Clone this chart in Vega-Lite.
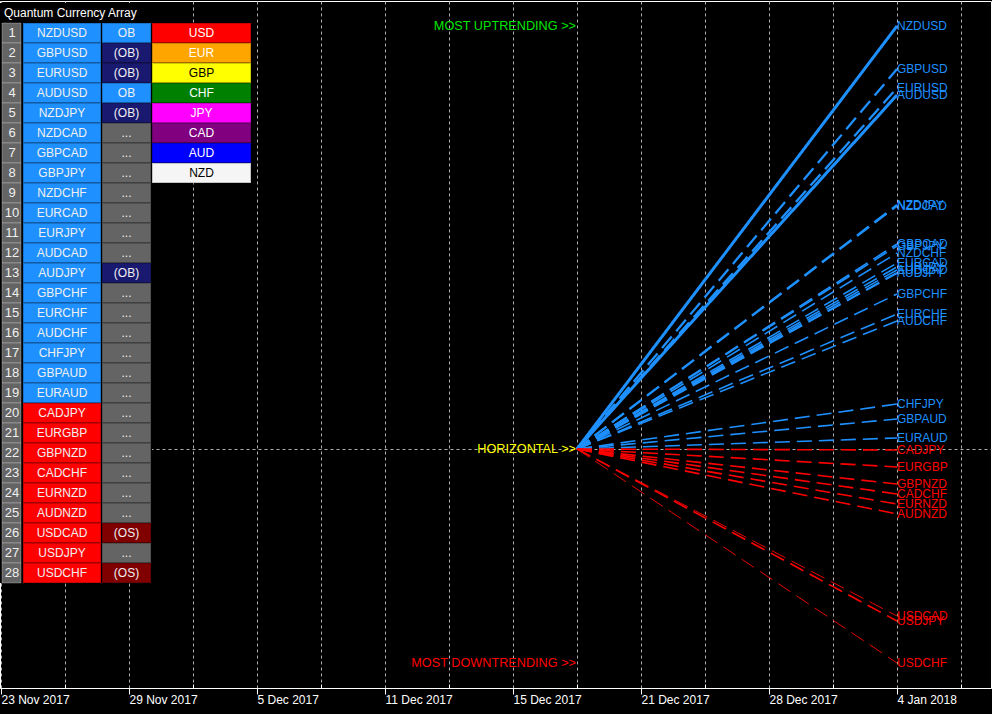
{
  "$schema": "https://vega.github.io/schema/vega-lite/v6.json",
  "width": 991,
  "height": 687,
  "padding": {"left": 0, "top": 1, "right": 1, "bottom": 26},
  "autosize": {"type": "none"},
  "background": "#000000",
  "config": {
    "view": {"stroke": "#ffffff", "strokeWidth": 1},
    "font": "Liberation Sans",
    "text": {"font": "Liberation Sans", "fontSize": 12}
  },
  "datasets": {
    "pairs": [
      {"rank": 1, "pair": "NZDUSD", "dir": "up", "status": "OB", "fromBar": 18, "toBar": 28, "fromStrength": 0, "strength": 4.23},
      {"rank": 2, "pair": "GBPUSD", "dir": "up", "status": "(OB)", "fromBar": 18, "toBar": 28, "fromStrength": 0, "strength": 3.80},
      {"rank": 3, "pair": "EURUSD", "dir": "up", "status": "(OB)", "fromBar": 18, "toBar": 28, "fromStrength": 0, "strength": 3.61},
      {"rank": 4, "pair": "AUDUSD", "dir": "up", "status": "OB", "fromBar": 18, "toBar": 28, "fromStrength": 0, "strength": 3.54},
      {"rank": 5, "pair": "NZDJPY", "dir": "up", "status": "(OB)", "fromBar": 18, "toBar": 28, "fromStrength": 0, "strength": 2.44},
      {"rank": 6, "pair": "NZDCAD", "dir": "up", "status": "...", "fromBar": 18, "toBar": 28, "fromStrength": 0, "strength": 2.43},
      {"rank": 7, "pair": "GBPCAD", "dir": "up", "status": "...", "fromBar": 18, "toBar": 28, "fromStrength": 0, "strength": 2.05},
      {"rank": 8, "pair": "GBPJPY", "dir": "up", "status": "...", "fromBar": 18, "toBar": 28, "fromStrength": 0, "strength": 2.03},
      {"rank": 9, "pair": "NZDCHF", "dir": "up", "status": "...", "fromBar": 18, "toBar": 28, "fromStrength": 0, "strength": 1.96},
      {"rank": 10, "pair": "EURCAD", "dir": "up", "status": "...", "fromBar": 18, "toBar": 28, "fromStrength": 0, "strength": 1.86},
      {"rank": 11, "pair": "EURJPY", "dir": "up", "status": "...", "fromBar": 18, "toBar": 28, "fromStrength": 0, "strength": 1.82},
      {"rank": 12, "pair": "AUDCAD", "dir": "up", "status": "...", "fromBar": 18, "toBar": 28, "fromStrength": 0, "strength": 1.79},
      {"rank": 13, "pair": "AUDJPY", "dir": "up", "status": "(OB)", "fromBar": 18, "toBar": 28, "fromStrength": 0, "strength": 1.76},
      {"rank": 14, "pair": "GBPCHF", "dir": "up", "status": "...", "fromBar": 18, "toBar": 28, "fromStrength": 0, "strength": 1.55},
      {"rank": 15, "pair": "EURCHF", "dir": "up", "status": "...", "fromBar": 18, "toBar": 28, "fromStrength": 0, "strength": 1.35},
      {"rank": 16, "pair": "AUDCHF", "dir": "up", "status": "...", "fromBar": 18, "toBar": 28, "fromStrength": 0, "strength": 1.28},
      {"rank": 17, "pair": "CHFJPY", "dir": "up", "status": "...", "fromBar": 18, "toBar": 28, "fromStrength": 0, "strength": 0.45},
      {"rank": 18, "pair": "GBPAUD", "dir": "up", "status": "...", "fromBar": 18, "toBar": 28, "fromStrength": 0, "strength": 0.30},
      {"rank": 19, "pair": "EURAUD", "dir": "up", "status": "...", "fromBar": 18, "toBar": 28, "fromStrength": 0, "strength": 0.11},
      {"rank": 20, "pair": "CADJPY", "dir": "down", "status": "...", "fromBar": 18, "toBar": 28, "fromStrength": 0, "strength": -0.01},
      {"rank": 21, "pair": "EURGBP", "dir": "down", "status": "...", "fromBar": 18, "toBar": 28, "fromStrength": 0, "strength": -0.18},
      {"rank": 22, "pair": "GBPNZD", "dir": "down", "status": "...", "fromBar": 18, "toBar": 28, "fromStrength": 0, "strength": -0.35},
      {"rank": 23, "pair": "CADCHF", "dir": "down", "status": "...", "fromBar": 18, "toBar": 28, "fromStrength": 0, "strength": -0.45},
      {"rank": 24, "pair": "EURNZD", "dir": "down", "status": "...", "fromBar": 18, "toBar": 28, "fromStrength": 0, "strength": -0.55},
      {"rank": 25, "pair": "AUDNZD", "dir": "down", "status": "...", "fromBar": 18, "toBar": 28, "fromStrength": 0, "strength": -0.65},
      {"rank": 26, "pair": "USDCAD", "dir": "down", "status": "(OS)", "fromBar": 18, "toBar": 28, "fromStrength": 0, "strength": -1.67},
      {"rank": 27, "pair": "USDJPY", "dir": "down", "status": "...", "fromBar": 18, "toBar": 28, "fromStrength": 0, "strength": -1.72},
      {"rank": 28, "pair": "USDCHF", "dir": "down", "status": "(OS)", "fromBar": 18, "toBar": 28, "fromStrength": 0, "strength": -2.14}
    ],
    "currencies": [
      {"rank": 1, "ccy": "USD"},
      {"rank": 2, "ccy": "EUR"},
      {"rank": 3, "ccy": "GBP"},
      {"rank": 4, "ccy": "CHF"},
      {"rank": 5, "ccy": "JPY"},
      {"rank": 6, "ccy": "CAD"},
      {"rank": 7, "ccy": "AUD"},
      {"rank": 8, "ccy": "NZD"}
    ],
    "trend": [
      {"label": "MOST UPTRENDING >>", "kind": "up", "bar": 18, "strength": 4.23},
      {"label": "HORIZONTAL >>", "kind": "flat", "bar": 18, "strength": 0},
      {"label": "MOST DOWNTRENDING >>", "kind": "down", "bar": 18, "strength": -2.14}
    ],
    "heading": [
      {"rank": 0, "text": "Quantum Currency Array"}
    ]
  },
  "layer": [
    {
      "layer": [
        {
          "data": {"name": "pairs"},
          "mark": {"type": "rule"},
          "encoding": {
            "x": {
              "field": "fromBar", "type": "quantitative",
              "scale": {"domain": [-0.03125, 30.9375], "nice": false, "zero": false},
              "axis": {
                "values": [0,1,2,3,4,5,6,7,8,9,10,11,12,13,14,15,16,17,18,19,20,21,22,23,24,25,26,27,28,29,30],
                "grid": true, "gridColor": "#b0b0b0", "gridDash": [3, 3], "gridWidth": 1,
                "domain": true, "domainColor": "#ffffff", "domainWidth": 1,
                "ticks": true, "tickColor": "#ffffff",
                "tickSize": {"condition": {"test": "datum.value % 4 === 0", "value": 6}, "value": -4},
                "labelExpr": "datum.value % 4 === 0 ? ['23 Nov 2017','29 Nov 2017','5 Dec 2017','11 Dec 2017','15 Dec 2017','21 Dec 2017','28 Dec 2017','4 Jan 2018'][datum.value / 4] : ''",
                "labelAlign": "left", "labelBaseline": "top", "labelPadding": 0,
                "labelColor": "#ffffff", "labelFont": "Liberation Sans", "labelFontSize": 12,
                "labelFlush": false, "labelOverlap": false, "title": null
              }
            },
            "x2": {"field": "toBar"},
            "y": {
              "field": "fromStrength", "type": "quantitative",
              "scale": {"domain": [-2.39, 4.48], "nice": false, "zero": false},
              "axis": {"values": [0], "grid": true, "gridColor": "#b0b0b0", "gridDash": [3, 3], "domain": false, "ticks": false, "labels": false, "title": null}
            },
            "y2": {"field": "strength"},
            "color": {"field": "dir", "type": "nominal", "scale": {"domain": ["up", "down"], "range": ["#1E90FF", "#FF0000"]}, "legend": null},
            "strokeDash": {"field": "status", "type": "nominal", "scale": {"domain": ["OB", "(OB)", "...", "(OS)"], "range": [[1, 0], [15, 7], [15, 7], [15, 7]]}, "legend": null},
            "strokeWidth": {"field": "status", "type": "nominal", "scale": {"domain": ["OB", "(OB)", "...", "(OS)"], "range": [3, 0.9, 0.9, 0.9]}, "legend": null}
          }
        },
        {
          "data": {"name": "pairs"},
          "mark": {"type": "text", "align": "left", "baseline": "middle", "fontSize": 12, "font": "Liberation Sans"},
          "encoding": {
            "x": {"field": "toBar", "type": "quantitative"},
            "y": {"field": "strength", "type": "quantitative"},
            "text": {"field": "pair"},
            "color": {"field": "dir", "type": "nominal", "legend": null}
          }
        },
        {
          "data": {"name": "trend"},
          "mark": {"type": "text", "align": "right", "baseline": "middle", "dx": -1, "fontSize": 12.7, "font": "Liberation Sans"},
          "encoding": {
            "x": {"field": "bar", "type": "quantitative"},
            "y": {"field": "strength", "type": "quantitative"},
            "text": {"field": "label"},
            "fill": {"field": "kind", "type": "nominal", "scale": {"domain": ["up", "flat", "down"], "range": ["#00E600", "#FFFF00", "#FF0000"]}, "legend": null}
          }
        }
      ]
    },
    {
      "layer": [
        {
          "data": {"name": "pairs"},
          "mark": {"type": "rect", "fill": "#000000"},
          "encoding": {
            "x": {"datum": 0, "type": "quantitative", "scale": {"domain": [0, 991], "nice": false, "zero": false}, "axis": null},
            "x2": {"datum": 152},
            "y": {"field": "rank", "type": "ordinal", "scale": {"domain": [0,1,2,3,4,5,6,7,8,9,10,11,12,13,14,15,16,17,18,19,20,21,22,23,24,25,26,27,28], "range": [2, 582], "paddingInner": 0, "paddingOuter": 0}, "axis": null}
          }
        },
        {
          "data": {"name": "heading"},
          "mark": {"type": "rect", "fill": "#000000"},
          "encoding": {
            "x": {"datum": 0, "type": "quantitative", "axis": null},
            "x2": {"datum": 152},
            "y": {"field": "rank", "type": "ordinal", "axis": null}
          }
        },
        {
          "data": {"name": "pairs"},
          "mark": {"type": "rect", "fill": "#646464", "stroke": "#ffffff", "strokeOpacity": 0.25, "strokeWidth": 1},
          "encoding": {
            "x": {"datum": 2, "type": "quantitative", "axis": null},
            "x2": {"datum": 21},
            "y": {"field": "rank", "type": "ordinal", "axis": null}
          }
        },
        {
          "data": {"name": "pairs"},
          "mark": {"type": "rect", "stroke": "#000000", "strokeOpacity": 0.2, "strokeWidth": 2},
          "encoding": {
            "x": {"datum": 23, "type": "quantitative", "axis": null},
            "x2": {"datum": 101},
            "y": {"field": "rank", "type": "ordinal", "axis": null},
            "fill": {"field": "dir", "type": "nominal", "scale": {"domain": ["up", "down"], "range": ["#1E90FF", "#FF0000"]}, "legend": null}
          }
        },
        {
          "data": {"name": "pairs"},
          "mark": {"type": "rect", "stroke": "#000000", "strokeOpacity": 0.2, "strokeWidth": 2},
          "encoding": {
            "x": {"datum": 102, "type": "quantitative", "axis": null},
            "x2": {"datum": 151},
            "y": {"field": "rank", "type": "ordinal", "axis": null},
            "fill": {"field": "status", "type": "nominal", "scale": {"domain": ["OB", "(OB)", "...", "(OS)"], "range": ["#1E90FF", "#191970", "#646464", "#800000"]}, "legend": null}
          }
        },
        {
          "data": {"name": "currencies"},
          "mark": {"type": "rect", "stroke": "#000000", "strokeOpacity": 0.2, "strokeWidth": 2},
          "encoding": {
            "x": {"datum": 152, "type": "quantitative", "axis": null},
            "x2": {"datum": 251},
            "y": {"field": "rank", "type": "ordinal", "axis": null},
            "fill": {"field": "ccy", "type": "nominal", "scale": {"domain": ["USD", "EUR", "GBP", "CHF", "JPY", "CAD", "AUD", "NZD"], "range": ["#FF0000", "#FFA500", "#FFFF00", "#008000", "#FF00FF", "#800080", "#0000FF", "#F5F5F5"]}, "legend": null}
          }
        },
        {
          "data": {"name": "heading"},
          "mark": {"type": "text", "align": "left", "baseline": "middle", "fill": "#ffffff", "fontSize": 12},
          "encoding": {
            "x": {"datum": 4, "type": "quantitative", "axis": null},
            "y": {"field": "rank", "type": "ordinal", "axis": null},
            "text": {"field": "text"}
          }
        },
        {
          "data": {"name": "pairs"},
          "mark": {"type": "text", "align": "center", "baseline": "middle", "fill": "#f0f0f0", "fontSize": 13},
          "encoding": {
            "x": {"datum": 12, "type": "quantitative", "axis": null},
            "y": {"field": "rank", "type": "ordinal", "axis": null},
            "text": {"field": "rank"}
          }
        },
        {
          "data": {"name": "pairs"},
          "mark": {"type": "text", "align": "center", "baseline": "middle", "fill": "#f0f0f0", "fontSize": 12},
          "encoding": {
            "x": {"datum": 62, "type": "quantitative", "axis": null},
            "y": {"field": "rank", "type": "ordinal", "axis": null},
            "text": {"field": "pair"}
          }
        },
        {
          "data": {"name": "pairs"},
          "mark": {"type": "text", "align": "center", "baseline": "middle", "fill": "#f0f0f0", "fontSize": 12},
          "encoding": {
            "x": {"datum": 126.5, "type": "quantitative", "axis": null},
            "y": {"field": "rank", "type": "ordinal", "axis": null},
            "text": {"field": "status"}
          }
        },
        {
          "data": {"name": "currencies"},
          "mark": {"type": "text", "align": "center", "baseline": "middle", "fontSize": 12},
          "encoding": {
            "x": {"datum": 201.5, "type": "quantitative", "axis": null},
            "y": {"field": "rank", "type": "ordinal", "axis": null},
            "text": {"field": "ccy"},
            "fill": {"field": "ccy", "type": "nominal", "scale": {"domain": ["USD", "EUR", "GBP", "CHF", "JPY", "CAD", "AUD", "NZD"], "range": ["#ffffff", "#ffffff", "#000000", "#ffffff", "#ffffff", "#ffffff", "#ffffff", "#000000"]}, "legend": null}
          }
        }
      ],
      "resolve": {"scale": {"fill": "independent"}}
    }
  ],
  "resolve": {"scale": {"x": "independent", "y": "independent"}}
}
